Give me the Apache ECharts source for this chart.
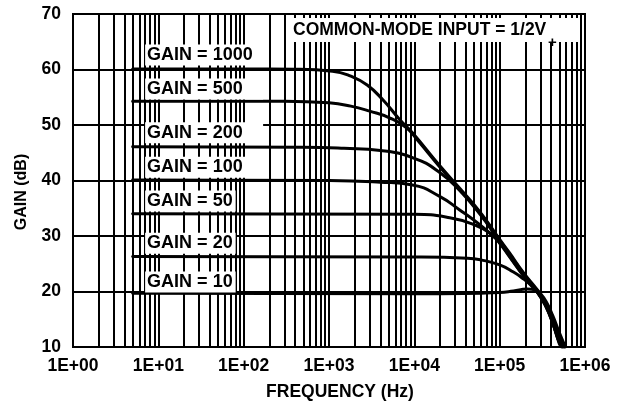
<!DOCTYPE html>
<html>
<head>
<meta charset="utf-8">
<script src="https://cdn.jsdelivr.net/npm/echarts@6/dist/echarts.min.js"></script>
<style>
html,body{margin:0;padding:0;background:#fff;}
#chart{width:626px;height:404px;}
</style>
</head>
<body>
<div id="chart"></div>
<script>
// ---- data ----
const xTickLabels = ['1E+00','1E+01','1E+02','1E+03','1E+04','1E+05','1E+06'];
const minorGridFreqs = [2,3,4,5,6,7,8,9,
  20,30,40,50,60,70,80,90,
  200,300,400,500,600,700,800,900,
  2000,3000,4000,5000,6000,7000,8000,9000,
  20000,30000,40000,50000,60000,70000,80000,90000,
  200000,300000,400000,500000,600000,700000,800000,900000];
const gainNames = ['GAIN = 1000','GAIN = 500','GAIN = 200','GAIN = 100','GAIN = 50','GAIN = 20','GAIN = 10'];
const gain1000 = [[5,60.1],[100,60.1],[400,60.05],[1100,59.7],[1800,58.8],[2800,57.2],[4300,54.5],[6800,50.9],[9500,48.6],[20000,42.6],[34000,38.6],[59000,34.3],[100000,29.4],[130000,27.0],[190000,23.4],[280000,20.2],[350000,18.2],[420000,15.6],[500000,12.6],[590000,10]];
const gain500 = [[5,54.3],[300,54.3],[1000,54.0],[1800,53.4],[3000,52.5],[5100,51.3],[8100,49.5],[11000,47.2],[20000,42.4],[34000,38.4],[59000,34.1],[100000,29.2],[130000,26.8],[190000,23.2],[280000,20.0],[350000,17.9],[420000,15.2],[500000,12.0],[580000,10]];
const gain200 = [[5,46.1],[500,46.0],[1500,45.8],[4000,45.4],[10000,44.0],[20000,41.4],[34000,38.2],[59000,33.9],[100000,29.0],[130000,26.6],[190000,23.0],[280000,19.9],[350000,17.6],[420000,14.8],[500000,11.6],[570000,10]];
const gain100 = [[5,40.1],[1000,40.0],[4000,39.7],[9500,39.2],[20000,37.1],[34000,34.7],[59000,32.0],[80000,30.2],[100000,28.8],[130000,26.4],[190000,22.9],[280000,19.8],[350000,17.4],[420000,14.5],[500000,11.2],[560000,10]];
const gain50 = [[5,34.0],[10000,33.9],[26000,33.3],[49000,32.1],[78000,30.5],[100000,28.7],[130000,26.3],[190000,22.8],[280000,19.7],[350000,17.2],[420000,14.2],[500000,10.9],[550000,10]];
const gain20 = [[5,26.3],[10000,26.2],[42000,26.0],[60000,25.7],[100000,24.8],[145000,23.5],[185000,22.4],[230000,21.2],[280000,19.8],[350000,17.3],[420000,14.3],[500000,10.8],[540000,10]];
const gain10 = [[5,19.7],[10000,19.6],[60000,19.7],[100000,19.8],[145000,20.1],[210000,20.45],[260000,20.3],[295000,19.7],[350000,17.4],[420000,14.3],[500000,10.6],[530000,10]];
// label anchor points (frequency, dB) for the gain annotations
const labelFreq = 7;
const labelDb = [62.6, 56.5, 48.6, 42.4, 36.3, 28.7, 21.7];
const noteText = 'COMMON-MODE INPUT = 1/2V';
const noteSub = '+';

// ---- chart ----
const FONT = '"Liberation Sans", Arial, Helvetica, sans-serif';
const curves = [gain1000, gain500, gain200, gain100, gain50, gain20, gain10];
const labelWidths = [118, 118, 118, 118, null, null, null];

const chart = echarts.init(document.getElementById('chart'), null, {renderer: 'canvas'});

const series = [{
  type: 'line',
  data: [],
  z: 1,
  silent: true,
  markLine: {
    silent: true,
    symbol: ['none', 'none'],
    label: {show: false},
    lineStyle: {color: '#000', width: 2, type: 'solid'},
    emphasis: {disabled: true},
    data: minorGridFreqs.map(f => ({xAxis: f}))
  }
}];

curves.forEach((c, i) => {
  const lbl = {
    show: true,
    position: 'right',
    distance: 0,
    formatter: gainNames[i],
    color: '#000',
    fontFamily: FONT,
    fontWeight: 'bold',
    fontSize: 18,
    backgroundColor: '#fff',
    padding: [2, 3, 1, 2]
  };
  if (labelWidths[i]) { lbl.width = labelWidths[i] - 5; }
  series.push({
    type: 'line',
    name: gainNames[i],
    data: c,
    z: 3,
    showSymbol: false,
    symbol: 'none',
    smooth: 0.5,
    lineStyle: {color: '#000', width: 3, join: 'round', cap: 'round'},
    silent: true,
    markPoint: {
      symbol: 'rect',
      symbolSize: 0,
      silent: true,
      z: 5,
      data: [{coord: [labelFreq, labelDb[i]], label: lbl}]
    }
  });
});

chart.setOption({
  animation: false,
  backgroundColor: '#fff',
  grid: {left: 73, right: 41, top: 14, bottom: 57, show: true, borderColor: '#000', borderWidth: 2, backgroundColor: 'transparent'},
  xAxis: {
    type: 'log',
    logBase: 10,
    min: 1,
    max: 1000000,
    axisLine: {show: true, lineStyle: {color: '#000', width: 2}},
    axisTick: {show: false},
    splitLine: {show: true, lineStyle: {color: '#000', width: 2}},
    axisLabel: {
      color: '#000', fontFamily: FONT, fontWeight: 'bold', fontSize: 17.5, margin: 10,
      formatter: v => xTickLabels[Math.round(Math.log10(v))]
    }
  },
  yAxis: {
    type: 'value',
    min: 10,
    max: 70,
    interval: 10,
    axisLine: {show: true, lineStyle: {color: '#000', width: 2}},
    axisTick: {show: false},
    splitLine: {show: true, lineStyle: {color: '#000', width: 2}},
    axisLabel: {color: '#000', fontFamily: FONT, fontWeight: 'bold', fontSize: 17.5, margin: 12}
  },
  graphic: [
    {type: 'rect', z: 100, shape: {x: 287, y: 18, width: 291, height: 24}, style: {fill: '#fff'}},
    {type: 'text', z: 101, x: 293, y: 30, style: {text: noteText, fill: '#000', font: 'bold 17.5px ' + FONT, textVerticalAlign: 'middle', verticalAlign: 'middle'}},
    {type: 'text', z: 101, x: 548, y: 43, style: {text: noteSub, fill: '#000', font: 'bold 15px ' + FONT, textVerticalAlign: 'middle', verticalAlign: 'middle'}},
    {type: 'text', z: 101, x: 340, y: 392, style: {text: 'FREQUENCY (Hz)', fill: '#000', font: 'bold 17.5px ' + FONT, align: 'center', verticalAlign: 'middle', textAlign: 'center', textVerticalAlign: 'middle'}},
    {type: 'text', z: 101, x: 22, y: 192, rotation: Math.PI / 2, style: {text: 'GAIN (dB)', fill: '#000', font: 'bold 16px ' + FONT, align: 'center', verticalAlign: 'middle', textAlign: 'center', textVerticalAlign: 'middle'}}
  ],
  series: series
});
</script>
</body>
</html>
